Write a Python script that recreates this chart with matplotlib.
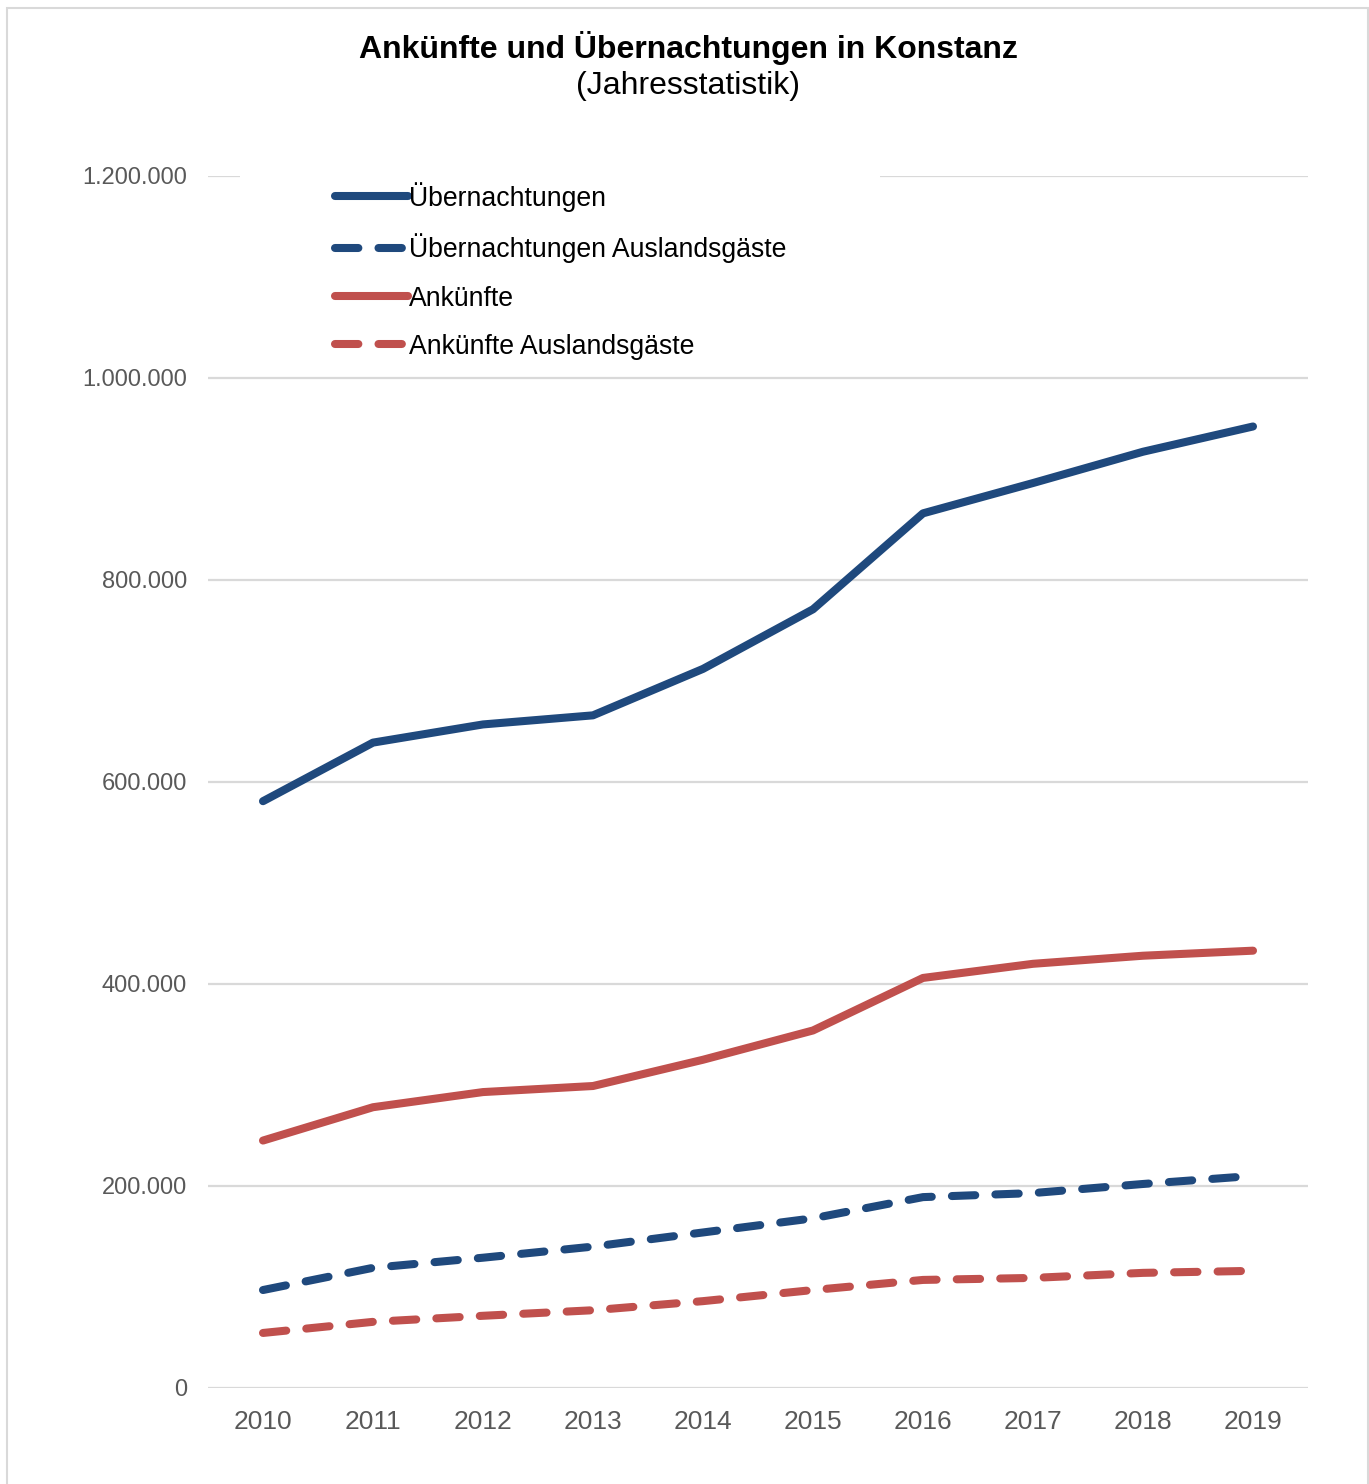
import matplotlib
matplotlib.use("Agg")
import matplotlib.pyplot as plt
from matplotlib.patches import Rectangle
from matplotlib.ticker import FuncFormatter

plt.rcParams['font.family'] = ['Liberation Sans', 'DejaVu Sans']

years = ['2010', '2011', '2012', '2013', '2014', '2015', '2016', '2017', '2018', '2019']
uebernachtungen = [581000, 639000, 657000, 666000, 712000, 771000, 866000, 896000, 927000, 952000]
uebernachtungen_ausland = [97000, 119000, 129000, 140000, 154000, 168000, 189000, 193000, 202000, 210000]
ankuenfte = [245000, 278000, 293000, 299000, 325000, 354000, 406000, 420000, 428000, 433000]
ankuenfte_ausland = [54500, 65500, 71500, 77000, 86000, 97000, 107000, 109000, 114000, 116000]
yticks = [0, 200000, 400000, 600000, 800000, 1000000, 1200000]

W, H = 1369, 1484
fig = plt.figure(figsize=(W / 100, H / 100), dpi=100)
fig.patches.append(Rectangle((7 / W, -0.01), (1368 - 7) / W, 1 - 8 / H + 0.01,
                             transform=fig.transFigure, fill=False,
                             edgecolor='#d9d9d9', linewidth=1.5, zorder=0))

ax = fig.add_axes([208 / W, 1 - 1388 / H, (1308 - 208) / W, (1388 - 176) / H])

blue = '#1f497d'
red = '#c0504d'
lw = 5.8
x = list(range(len(years)))
ax.plot(x, uebernachtungen, color=blue, lw=lw, solid_capstyle='round', label='Übernachtungen', zorder=3)
ax.plot(x, uebernachtungen_ausland, color=blue, lw=lw, dashes=(2.9, 2.5), dash_capstyle='round',
        label='Übernachtungen Auslandsgäste', zorder=3)
ax.plot(x, ankuenfte, color=red, lw=lw, solid_capstyle='round', label='Ankünfte', zorder=3)
ax.plot(x, ankuenfte_ausland, color=red, lw=lw, dashes=(2.9, 2.5), dash_capstyle='round',
        label='Ankünfte Auslandsgäste', zorder=3)

ax.set_xlim(-0.5, len(years) - 0.5)
ax.set_ylim(0, 1200000)
ax.set_xticks(x)
ax.set_xticklabels(years)
ax.set_yticks(yticks)
ax.yaxis.set_major_formatter(FuncFormatter(lambda v, p: f"{int(v):,}".replace(',', '.')))
ax.grid(axis='y', color='#d9d9d9', linewidth=1.6, zorder=0)
ax.set_axisbelow(True)
for s in ax.spines.values():
    s.set_visible(False)
ax.tick_params(axis='both', length=0, labelcolor='#595959')
ax.tick_params(axis='y', pad=15, labelsize=17)
ax.tick_params(axis='x', pad=15.5, labelsize=19)

# white box behind legend (hides part of the top gridline)
ax.add_patch(Rectangle((240 / W, 1 - 375 / H), (880 - 240) / W, (375 - 165) / H,
                       transform=fig.transFigure, facecolor='white', edgecolor='none',
                       zorder=1, clip_on=False))

leg = ax.legend(loc='upper left', bbox_to_anchor=((324 - 208) / (1308 - 208), 1 - (171 - 176) / (1388 - 176)),
                frameon=False, fontsize=19.2, handlelength=2.75, handletextpad=0.05,
                labelspacing=0.83, borderaxespad=0)
leg.set_zorder(5)
for t in leg.get_texts():
    t.set_color('#000000')

fig.text(0.5 + 4 / W, 1 - 48 / H, 'Ankünfte und Übernachtungen in Konstanz', ha='center', va='center',
         fontsize=23, fontweight='bold', color='black')
fig.text(0.5 + 4 / W, 1 - 86 / H, '(Jahresstatistik)', ha='center', va='center',
         fontsize=23, color='black')

fig.savefig('out.png', dpi=100)
